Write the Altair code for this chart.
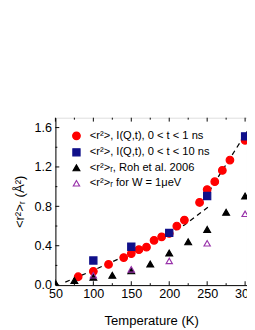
import altair as alt
import pandas as pd

# ---- data ----
red_T = [80, 100, 120, 140, 150, 160, 170, 180, 190, 200, 210, 220, 240, 250, 260, 270, 280, 300]
red_v = [0.085, 0.14, 0.21, 0.28, 0.32, 0.36, 0.385, 0.455, 0.49, 0.525, 0.60, 0.66, 0.84, 0.97, 1.05, 1.165, 1.27, 1.47]

blue_T = [100, 150, 200, 250, 300]
blue_v = [0.25, 0.39, 0.53, 0.905, 1.51]

black_T = [50, 75, 100, 125, 150, 175, 200, 225, 250, 275, 300]
black_v = [0.02, 0.046, 0.08, 0.10, 0.145, 0.214, 0.326, 0.44, 0.566, 0.74, 0.905]

purple_T = [100, 150, 200, 250, 300]
purple_v = [0.10, 0.16, 0.245, 0.425, 0.724]

fitA_T = [63, 100, 140, 180, 220, 251]
fitA_v = [0.03, 0.15, 0.29, 0.44, 0.61, 0.79]
fitB_T = [240, 302.5]
fitB_v = [0.80, 1.56]

series_names = [
    "<r²>, I(Q,t), 0 < t < 1 ns",
    "<r²>, I(Q,t), 0 < t < 10 ns",
    "<r²>ᵣ,  Roh et al. 2006",
    "<r²>ᵣ for W = 1μeV",
]

x_major = [50, 100, 150, 200, 250, 300]
x_minor = [75, 125, 175, 225, 275]
y_major = [0.0, 0.4, 0.8, 1.2, 1.6]
y_minor = [0.2, 0.6, 1.0, 1.4]

# ---- tables ----
rows = []
for T, v in zip(red_T, red_v):
    rows.append({"T": T, "v": v, "s": series_names[0]})
for T, v in zip(blue_T, blue_v):
    rows.append({"T": T, "v": v, "s": series_names[1]})
for T, v in zip(black_T, black_v):
    rows.append({"T": T, "v": v, "s": series_names[2]})
for T, v in zip(purple_T, purple_v):
    rows.append({"T": T, "v": v, "s": series_names[3]})
pts = pd.DataFrame(rows)

fits = pd.DataFrame(
    [{"T": T, "v": v, "f": "A"} for T, v in zip(fitA_T, fitA_v)]
    + [{"T": T, "v": v, "f": "B"} for T, v in zip(fitB_T, fitB_v)]
)

W, H = 198, 173
xs = alt.Scale(domain=[50, 302.5], nice=False, zero=False)
ys = alt.Scale(domain=[0, 1.7], nice=False, zero=False)

x_axis = alt.Axis(values=x_major, title="Temperature (K)", ticks=False,
                  grid=False, labelPadding=3, titlePadding=14,
                  domainColor="black", labelFontSize=13, titleFontSize=13.5)
y_axis = alt.Axis(values=y_major, format=".1f", title="<r²>ᵣ (Å²)", ticks=False,
                  grid=False, labelPadding=4, titlePadding=8,
                  domainColor="black", labelFontSize=13, titleFontSize=13.5)

leg = alt.Legend(title=None, orient="none", legendX=16, legendY=13,
                 labelFontSize=11.5, labelOffset=8, rowPadding=3,
                 symbolStrokeWidth=1.2, padding=0)

lines = alt.Chart(fits).mark_line(color="black", strokeDash=[5, 4], strokeWidth=1.3, clip=True).encode(
    x=alt.X("T:Q", scale=xs, axis=x_axis),
    y=alt.Y("v:Q", scale=ys, axis=y_axis),
    detail="f:N",
)

points = alt.Chart(pts).mark_point(strokeWidth=1.2, opacity=1, clip=True).encode(
    x=alt.X("T:Q", scale=xs, axis=x_axis),
    y=alt.Y("v:Q", scale=ys, axis=y_axis),
    shape=alt.Shape("s:N", scale=alt.Scale(domain=series_names,
                                           range=["circle", "square", "triangle-up", "triangle-up"]),
                    legend=leg),
    fill=alt.Fill("s:N", scale=alt.Scale(domain=series_names,
                                         range=["#ff0000", "#10108a", "#000000", "transparent"]),
                  legend=leg),
    stroke=alt.Stroke("s:N", scale=alt.Scale(domain=series_names,
                                             range=["#ff0000", "#10108a", "#000000", "#9933aa"]),
                      legend=leg),
    size=alt.Size("s:N", scale=alt.Scale(domain=series_names, range=[62, 42, 48, 48]),
                  legend=leg),
)

# inward ticks on the frame
xt = pd.DataFrame({"t": x_major})
xm = pd.DataFrame({"t": x_minor})
yt = pd.DataFrame({"t": y_major})
ym = pd.DataFrame({"t": y_minor})

X_t = alt.X("t:Q", scale=xs, axis=x_axis)
Y_t = alt.Y("t:Q", scale=ys, axis=y_axis)

xtick_b = alt.Chart(xt).mark_rule(color="black", strokeWidth=1).encode(
    x=X_t, y=alt.value(H), y2=alt.value(H - 4))
xtick_bm = alt.Chart(xm).mark_rule(color="black", strokeWidth=1).encode(
    x=X_t, y=alt.value(H), y2=alt.value(H - 2))
xtick_t = alt.Chart(xt).mark_rule(color="black", strokeWidth=1).encode(
    x=X_t, y=alt.value(0), y2=alt.value(4))
xtick_tm = alt.Chart(xm).mark_rule(color="black", strokeWidth=1).encode(
    x=X_t, y=alt.value(0), y2=alt.value(2))
ytick_l = alt.Chart(yt).mark_rule(color="black", strokeWidth=1).encode(
    y=Y_t, x=alt.value(0), x2=alt.value(4))
ytick_lm = alt.Chart(ym).mark_rule(color="black", strokeWidth=1).encode(
    y=Y_t, x=alt.value(0), x2=alt.value(2))

chart = alt.layer(
    lines, xtick_b, xtick_bm, xtick_t, xtick_tm, ytick_l, ytick_lm, points
).properties(
    width=W, height=H,
    autosize=alt.AutoSizeParams(type="none"),
    padding={"left": 49, "top": 108, "right": 0, "bottom": 41},
).configure_view(
    stroke="black", strokeWidth=1
).configure(
    font="Liberation Sans", background="white"
).configure_axis(
    labelColor="black", titleColor="black", titleFontWeight="normal", domainWidth=1,
    labelFont="Liberation Sans", titleFont="Liberation Sans",
    labelOverlap=False, labelFlush=False
).configure_legend(
    labelFont="Liberation Sans", labelColor="black"
)

chart.save("out.html", embed_options={"renderer": "svg", "actions": False})
